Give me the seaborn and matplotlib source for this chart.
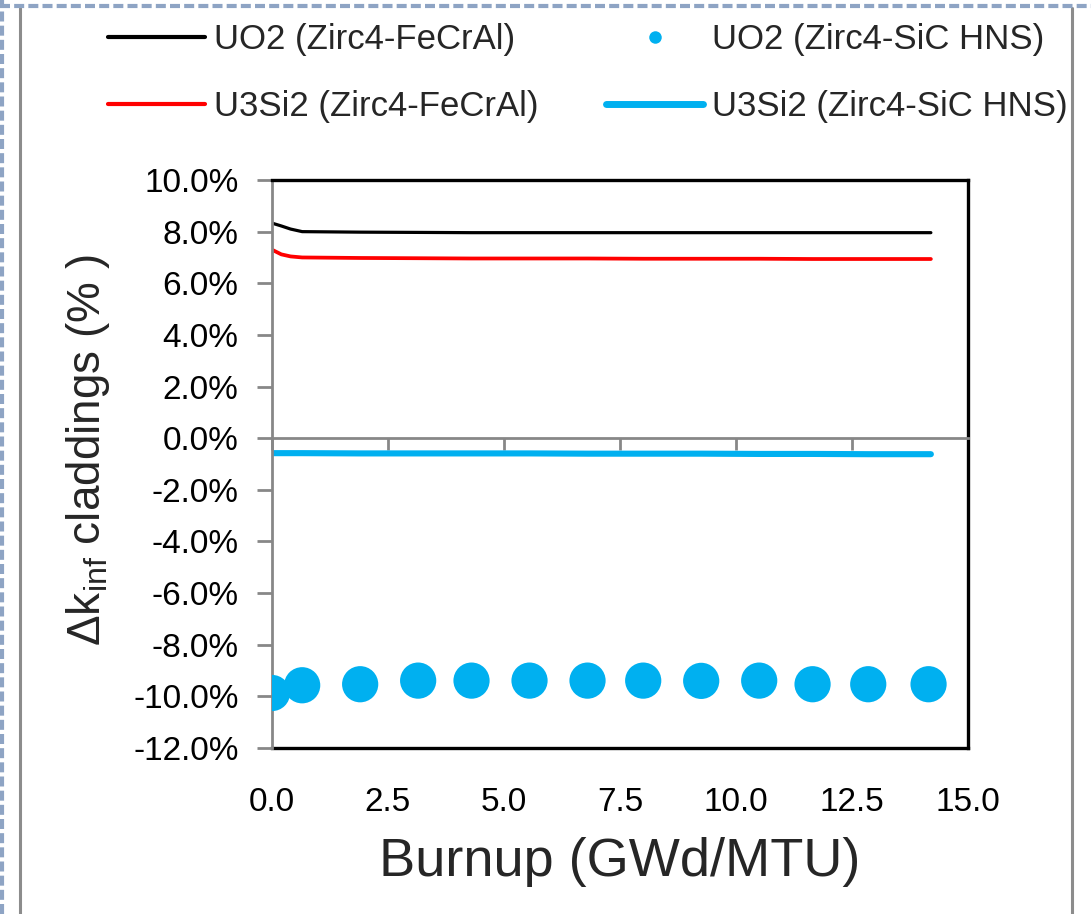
import matplotlib
matplotlib.use("Agg")
import matplotlib.pyplot as plt
import seaborn as sns
from matplotlib.lines import Line2D
from matplotlib.ticker import MultipleLocator, FixedLocator, StrMethodFormatter

# ---------------- data ----------------
burnup_dots = [0.0, 0.65, 1.9, 3.15, 4.3, 5.55, 6.8, 8.0, 9.25, 10.5, 11.65, 12.85, 14.15]
uo2_sic_hns = [-9.87, -9.57, -9.53, -9.39, -9.39, -9.39, -9.39, -9.39, -9.40, -9.39, -9.53, -9.53, -9.53]

burnup_lines = [0.0, 0.2, 0.4, 0.65, 1.9, 3.15, 4.3, 5.55, 6.8, 8.0, 9.25, 10.5, 11.65, 12.85, 14.2]
uo2_fecral = [8.33, 8.22, 8.10, 8.00, 7.98, 7.97, 7.96, 7.96, 7.96, 7.96, 7.96, 7.96, 7.96, 7.96, 7.96]
u3si2_fecral = [7.30, 7.12, 7.04, 7.00, 6.98, 6.97, 6.96, 6.96, 6.96, 6.95, 6.95, 6.95, 6.94, 6.94, 6.94]
u3si2_sic_hns = [-0.58, -0.58, -0.58, -0.58, -0.59, -0.59, -0.59, -0.59, -0.60, -0.60, -0.60, -0.61, -0.61, -0.62, -0.62]

x_ticks = [0.0, 2.5, 5.0, 7.5, 10.0, 12.5, 15.0]
labels = ["UO2 (Zirc4-FeCrAl)", "U3Si2 (Zirc4-FeCrAl)", "UO2 (Zirc4-SiC HNS)", "U3Si2 (Zirc4-SiC HNS)"]
x_label = "Burnup (GWd/MTU)"
y_label = "Δk$_{\\mathrm{inf}}$ claddings (% )"

# ---------------- style ----------------
sns.set_style("white")
plt.rcParams["font.family"] = ["Liberation Sans", "DejaVu Sans"]
plt.rcParams["mathtext.fontset"] = "custom"
plt.rcParams["mathtext.rm"] = "Liberation Sans"
plt.rcParams["axes.unicode_minus"] = False

CYAN = "#00B0F0"
GRAY = "#878787"

W, H = 1091, 914
fig = plt.figure(figsize=(W / 100, H / 100), dpi=100)
ax = fig.add_axes([272 / W, 166 / H, 696 / W, 568 / H])

sns.lineplot(x=burnup_lines, y=uo2_fecral, color="black", lw=2.3, ax=ax, legend=False)
sns.lineplot(x=burnup_lines, y=u3si2_fecral, color="#FF0000", lw=2.7, ax=ax, legend=False)
sns.lineplot(x=burnup_lines, y=u3si2_sic_hns, color=CYAN, lw=4.4, ax=ax, legend=False)
sns.scatterplot(x=burnup_dots, y=uo2_sic_hns, color=CYAN, s=680, edgecolor="none", ax=ax, legend=False, zorder=5)

ax.set_xlim(0, 15)
ax.set_ylim(-12, 10)
ax.xaxis.set_major_locator(FixedLocator(x_ticks))
ax.yaxis.set_major_locator(MultipleLocator(2))
ax.yaxis.set_major_formatter(StrMethodFormatter("{x:.1f}%"))

for s in ("top", "right"):
    ax.spines[s].set_color("black")
    ax.spines[s].set_linewidth(2.4)
ax.spines["left"].set_color(GRAY)
ax.spines["left"].set_linewidth(2.0)
ax.spines["bottom"].set_position(("data", 0))
ax.spines["bottom"].set_color(GRAY)
ax.spines["bottom"].set_linewidth(2.0)

ax.tick_params(axis="x", direction="out", length=8.5, width=2, color=GRAY, labelbottom=False, bottom=True)
ax.tick_params(axis="y", direction="out", length=11, width=2, color=GRAY, labelsize=24, pad=13, left=True,
               labelcolor="black")

sec = ax.secondary_xaxis("bottom")
sec.xaxis.set_major_locator(FixedLocator(x_ticks))
sec.xaxis.set_major_formatter(StrMethodFormatter("{x:.1f}"))
sec.spines["bottom"].set_color("black")
sec.spines["bottom"].set_linewidth(2.4)
sec.tick_params(axis="x", length=0, labelsize=24, pad=28, labelcolor="black")
sec.set_xlabel(x_label, fontsize=39, labelpad=14)

ax.set_ylabel(y_label, fontsize=33)
ax.yaxis.set_label_coords(-0.23, 0.525)

# legend
handles = [
    Line2D([], [], color="black", lw=3),
    Line2D([], [], color="#FF0000", lw=3),
    Line2D([], [], color=CYAN, lw=0, marker="o", markersize=9, markeredgewidth=0),
    Line2D([], [], color=CYAN, lw=5),
]
fig.legend(handles, labels, ncol=2, loc="upper left", bbox_to_anchor=(108 / W, 1 - 23 / H),
           frameon=False, fontsize=25, handlelength=2.8, handletextpad=0.25, columnspacing=1.95,
           labelspacing=0.97, borderpad=0, borderaxespad=0)

# figure frame decorations
for xp in (20, 1072):
    fig.add_artist(Line2D([xp / W, xp / W], [0, 1 - 8 / H], transform=fig.transFigure,
                          color="#8C8C8C", lw=2.2))
fig.add_artist(Line2D([0, 1], [1 - 6 / H, 1 - 6 / H], transform=fig.transFigure,
                      color="#8EA4C4", lw=3, linestyle=(0, (2.4, 1.0))))
fig.add_artist(Line2D([1.5 / W, 1.5 / W], [0, 1], transform=fig.transFigure,
                      color="#8EA4C4", lw=3, linestyle=(0, (2.4, 1.0))))

fig.savefig("out.png", dpi=100)
